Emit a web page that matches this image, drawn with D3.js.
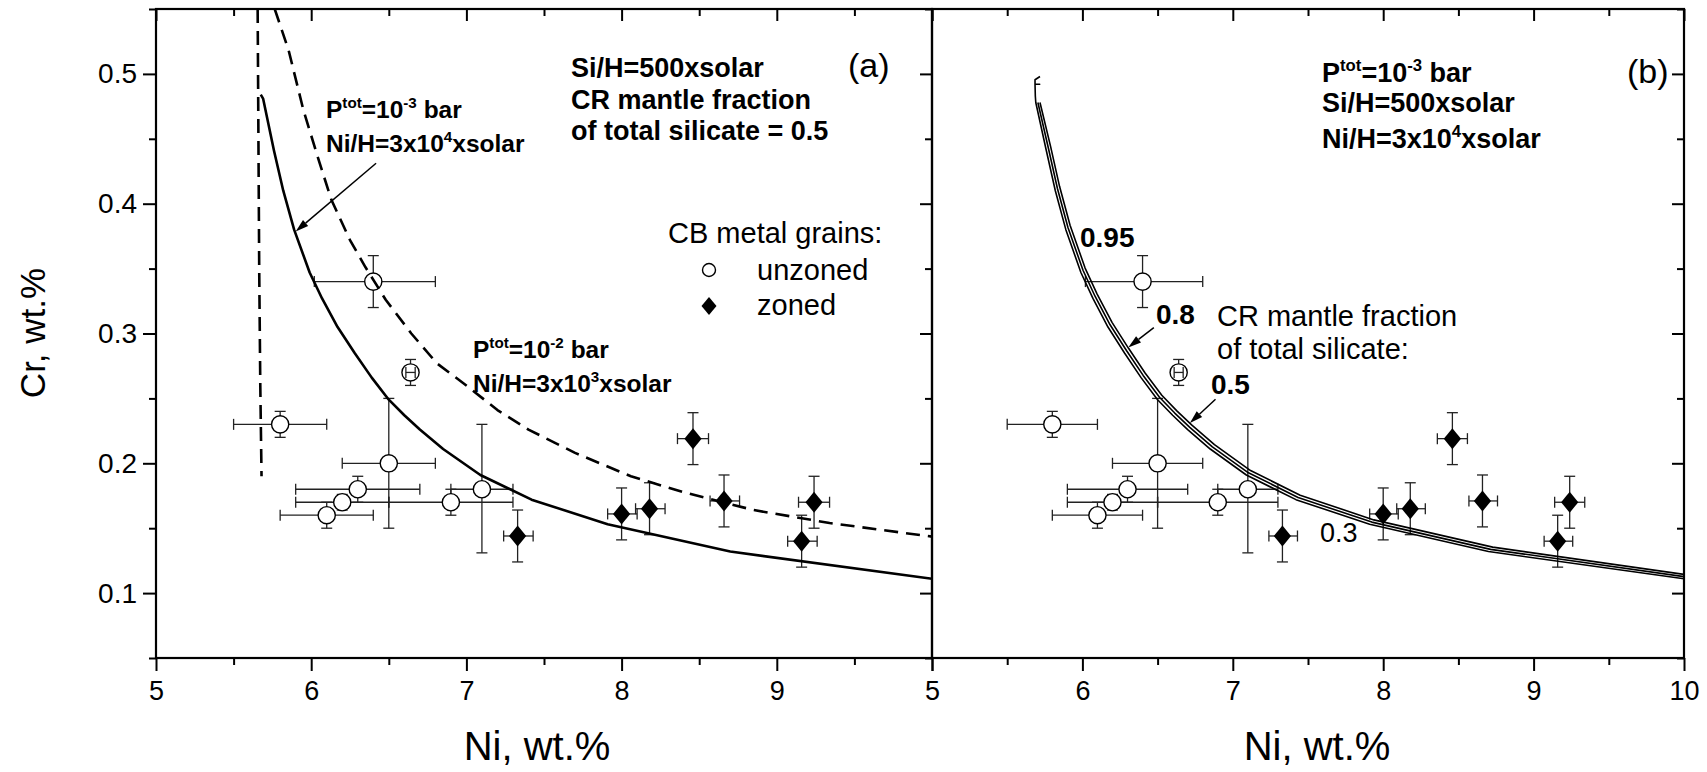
<!DOCTYPE html>
<html>
<head>
<meta charset="utf-8">
<script src="https://cdn.jsdelivr.net/npm/d3@7"></script>
<style>
  html, body { margin: 0; padding: 0; background: #fff; }
  svg { display: block; }
  text { font-family: "Liberation Sans", Arial, Helvetica, sans-serif; fill: #000; white-space: pre; }
</style>
</head>
<body>
<svg id="chart" width="1707" height="772"></svg>
<script>
// ---- axis ticks ----
const xMajor = [5, 6, 7, 8, 9, 10];
const xMinor = [5.5, 6.5, 7.5, 8.5, 9.5];
const yMajor = [0.1, 0.2, 0.3, 0.4, 0.5];
const yMinor = [0.05, 0.15, 0.25, 0.35, 0.45, 0.55];

// ---- CB metal grains, unzoned (Ni, Cr in wt.% with error ranges) ----
const unzNi   = [5.80, 6.40, 6.64, 6.50, 6.30, 6.20, 6.10, 6.90, 7.10];
const unzNiLo = [5.50, 6.02, 6.61, 6.20, 5.90, 5.90, 5.80, 6.50, 6.90];
const unzNiHi = [6.10, 6.80, 6.67, 6.80, 6.70, 6.50, 6.40, 7.30, 7.30];
const unzCr   = [0.230, 0.340, 0.270, 0.200, 0.180, 0.170, 0.160, 0.170, 0.180];
const unzCrLo = [0.220, 0.320, 0.260, 0.150, 0.170, 0.164, 0.150, 0.160, 0.131];
const unzCrHi = [0.240, 0.360, 0.280, 0.250, 0.190, 0.176, 0.170, 0.180, 0.230];

// ---- CB metal grains, zoned ----
const zonNi   = [7.33, 8.00, 8.18, 8.46, 8.66, 9.24, 9.16];
const zonNiLo = [7.24, 7.91, 8.09, 8.36, 8.57, 9.14, 9.07];
const zonNiHi = [7.43, 8.10, 8.28, 8.56, 8.76, 9.34, 9.26];
const zonCr   = [0.144, 0.161, 0.165, 0.219, 0.171, 0.170, 0.140];
const zonCrLo = [0.124, 0.141, 0.145, 0.199, 0.151, 0.150, 0.120];
const zonCrHi = [0.164, 0.181, 0.185, 0.239, 0.191, 0.190, 0.160];

// ---- condensation model curves, panel (a) ----
// Ptot = 1e-3 bar, Ni/H = 3e4 x solar
const lowPNi = [5.675, 5.69, 5.76, 5.82, 5.89, 5.99, 6.07, 6.17, 6.28, 6.39, 6.50, 6.60, 6.70, 6.85, 7.09, 7.42, 7.91, 8.70, 10.0];
const lowPCr = [0.484, 0.481, 0.441, 0.410, 0.380, 0.347, 0.327, 0.305, 0.285, 0.266, 0.249, 0.237, 0.226, 0.211, 0.191, 0.172, 0.153, 0.132, 0.111];
// Ptot = 1e-2 bar, Ni/H = 3e3 x solar
const highPNi = [5.765, 5.855, 5.95, 6.05, 6.13, 6.25, 6.35, 6.48, 6.645, 6.81, 7.01, 7.20, 7.40, 7.70, 8.06, 8.39, 8.85, 9.34, 10.0];
const highPCr = [0.550, 0.518, 0.472, 0.433, 0.403, 0.372, 0.351, 0.326, 0.300, 0.277, 0.259, 0.241, 0.226, 0.208, 0.190, 0.178, 0.164, 0.154, 0.1435];
// low-Ni branch of the 1e-2 bar solution
const highPBranchNi = [5.655, 5.660, 5.665, 5.672, 5.680];
const highPBranchCr = [0.550, 0.450, 0.350, 0.260, 0.190];

// ---- panel (b): CR mantle fraction of total silicate ----
const frac05Ni = [5.718, 5.685, 5.685, 5.716, 5.685, 5.687, 5.690, 5.76, 5.82, 5.89, 5.99, 6.07, 6.17, 6.28, 6.39, 6.50, 6.60, 6.70, 6.85, 7.09, 7.42, 7.91, 8.70, 10.0];
const frac05Cr = [0.498, 0.4955, 0.492, 0.492, 0.492, 0.483, 0.478, 0.441, 0.410, 0.380, 0.347, 0.327, 0.305, 0.285, 0.266, 0.249, 0.237, 0.226, 0.211, 0.191, 0.172, 0.153, 0.132, 0.111];
const frac08Ni = [5.704, 5.774, 5.834, 5.904, 6.004, 6.084, 6.184, 6.294, 6.404, 6.514, 6.614, 6.714, 6.864, 7.104, 7.434, 7.924, 8.714, 10.0];
const frac08Cr = [0.478, 0.4427, 0.4117, 0.3817, 0.3487, 0.3287, 0.3067, 0.2867, 0.2677, 0.2507, 0.2387, 0.2277, 0.2127, 0.1927, 0.1737, 0.1547, 0.1337, 0.1127];
const frac095Ni = [5.718, 5.788, 5.848, 5.918, 6.018, 6.098, 6.198, 6.308, 6.418, 6.528, 6.628, 6.728, 6.878, 7.118, 7.448, 7.938, 8.728, 10.0];
const frac095Cr = [0.478, 0.4444, 0.4134, 0.3834, 0.3504, 0.3304, 0.3084, 0.2884, 0.2694, 0.2524, 0.2404, 0.2294, 0.2144, 0.1944, 0.1754, 0.1564, 0.1354, 0.1144];

// ---------------------------------------------------------------
const svg = d3.select("#chart");
const TOP = 9, BOTTOM = 658;
const y = d3.scaleLinear().domain([0.05, 0.55]).range([BOTTOM, TOP]);
const xA = d3.scaleLinear().domain([5, 10]).range([156, 932]);
const xB = d3.scaleLinear().domain([5, 10]).range([932, 1684]);

const zip = (xs, ys) => xs.map((v, i) => [v, ys[i]]);

function styleAxis(sel, fontSize) {
  sel.select(".domain").remove();
  sel.selectAll("line").attr("stroke", "#000").attr("stroke-width", 2);
  sel.selectAll("text").attr("font-size", fontSize).attr("fill", "#000")
    .attr("font-family", '"Liberation Sans", Arial, sans-serif');
}

function drawFrame(x, id, opts) {
  const g = svg.append("g");
  const [L, R] = x.range();
  // bottom
  g.append("g").attr("transform", `translate(0,${BOTTOM})`)
    .call(d3.axisBottom(x).tickValues(xMajor).tickSize(13).tickPadding(10)
      .tickFormat(v => opts.xLabel(v) ? d3.format("d")(v) : ""))
    .call(s => styleAxis(s, 27));
  g.append("g").attr("transform", `translate(0,${BOTTOM})`)
    .call(d3.axisBottom(x).tickValues(xMinor).tickSize(7).tickFormat(""))
    .call(s => styleAxis(s, 27));
  // top (inward)
  g.append("g").attr("transform", `translate(0,${TOP})`)
    .call(d3.axisTop(x).tickValues(xMajor).tickSize(-12).tickFormat(""))
    .call(s => styleAxis(s, 27));
  g.append("g").attr("transform", `translate(0,${TOP})`)
    .call(d3.axisTop(x).tickValues(xMinor).tickSize(-7).tickFormat(""))
    .call(s => styleAxis(s, 27));
  // left
  if (opts.yLabels) {
    g.append("g").attr("transform", `translate(${L},0)`)
      .call(d3.axisLeft(y).tickValues(yMajor).tickSize(13).tickPadding(6).tickFormat(d3.format(".1f")))
      .call(s => styleAxis(s, 28));
    g.append("g").attr("transform", `translate(${L},0)`)
      .call(d3.axisLeft(y).tickValues(yMinor).tickSize(7).tickFormat(""))
      .call(s => styleAxis(s, 28));
  }
  // right (inward)
  g.append("g").attr("transform", `translate(${R},0)`)
    .call(d3.axisRight(y).tickValues(yMajor).tickSize(-12).tickFormat(""))
    .call(s => styleAxis(s, 27));
  g.append("g").attr("transform", `translate(${R},0)`)
    .call(d3.axisRight(y).tickValues(yMinor).tickSize(-7).tickFormat(""))
    .call(s => styleAxis(s, 27));
  // frame
  g.append("rect").attr("x", L).attr("y", TOP).attr("width", R - L).attr("height", BOTTOM - TOP)
    .attr("fill", "none").attr("stroke", "#000").attr("stroke-width", 2.2);
  // clip region for the model curves
  svg.append("clipPath").attr("id", id).append("rect")
    .attr("x", L).attr("y", TOP).attr("width", R - L).attr("height", BOTTOM - TOP);
}

const CAP = 5.5;
function drawGrains(x) {
  const g = svg.append("g");
  const errs = [];
  unzNi.forEach((v, i) => errs.push({x: unzNi[i], xl: unzNiLo[i], xh: unzNiHi[i], y: unzCr[i], yl: unzCrLo[i], yh: unzCrHi[i], r: 8.6}));
  zonNi.forEach((v, i) => errs.push({x: zonNi[i], xl: zonNiLo[i], xh: zonNiHi[i], y: zonCr[i], yl: zonCrLo[i], yh: zonCrHi[i], r: 8.6}));

  function errBar(sel, d, doX, doY) {
    const cx = x(d.x), cy = y(d.y);
    const seg = (x1, y1, x2, y2) => sel.append("line").attr("x1", x1).attr("y1", y1).attr("x2", x2).attr("y2", y2)
      .attr("stroke", "#222").attr("stroke-width", 1.3);
    if (doX) {
      seg(x(d.xl), cy, x(d.xh), cy);
      seg(x(d.xl), cy - CAP, x(d.xl), cy + CAP);
      seg(x(d.xh), cy - CAP, x(d.xh), cy + CAP);
    }
    if (doY) {
      seg(cx, y(d.yl), cx, y(d.yh));
      seg(cx - CAP, y(d.yl), cx + CAP, y(d.yl));
      seg(cx - CAP, y(d.yh), cx + CAP, y(d.yh));
    }
  }
  const eg = g.append("g");
  errs.forEach(d => errBar(eg, d, true, true));

  // open circles: unzoned
  g.append("g").selectAll("circle").data(zip(unzNi, unzCr)).join("circle")
    .attr("cx", d => x(d[0])).attr("cy", d => y(d[1])).attr("r", 8.6)
    .attr("fill", "#fff").attr("stroke", "#000").attr("stroke-width", 1.4);
  // filled diamonds: zoned
  g.append("g").selectAll("path").data(zip(zonNi, zonCr)).join("path")
    .attr("transform", d => `translate(${x(d[0])},${y(d[1])})`)
    .attr("d", "M0,-10.5L8.6,0L0,10.5L-8.6,0Z").attr("fill", "#000");

  // error bars narrower than the symbol stay visible on top of it
  const og = g.append("g");
  errs.filter(d => (x(d.xh) - x(d.xl)) / 2 < d.r).forEach(d => errBar(og, d, true, false));
}

const line = d3.line().x(d => d[0]).y(d => d[1]);
function drawCurve(x, clipId, xs, ys, width, dash) {
  svg.append("path").attr("clip-path", `url(#${clipId})`)
    .attr("d", line(zip(xs, ys).map(p => [x(p[0]), y(p[1])])))
    .attr("fill", "none").attr("stroke", "#000").attr("stroke-width", width)
    .attr("stroke-linejoin", "round")
    .attr("stroke-dasharray", dash || null);
}

function richText(x0, y0, size, weight, parts) {
  const t = svg.append("text").attr("x", x0).attr("y", y0)
    .attr("font-size", size).attr("font-weight", weight);
  let raised = false;
  parts.forEach(p => {
    const sup = Array.isArray(p);
    const ts = t.append("tspan").text(sup ? p[0] : p);
    if (sup) { ts.attr("font-size", size * 0.62).attr("dy", -size * 0.42); raised = true; }
    else if (raised) { ts.attr("dy", size * 0.42); raised = false; }
  });
  return t;
}

function arrow(x, from, to) {
  const x1 = x(from[0]), y1 = y(from[1]), x2 = x(to[0]), y2 = y(to[1]);
  const ang = Math.atan2(y2 - y1, x2 - x1);
  const L = 13, Wd = 4;
  const bx = x2 - L * Math.cos(ang), by = y2 - L * Math.sin(ang);
  svg.append("line").attr("x1", x1).attr("y1", y1).attr("x2", bx).attr("y2", by)
    .attr("stroke", "#000").attr("stroke-width", 1.5);
  svg.append("path").attr("d",
    `M${x2},${y2}L${bx + Wd * Math.sin(ang)},${by - Wd * Math.cos(ang)}L${bx - Wd * Math.sin(ang)},${by + Wd * Math.cos(ang)}Z`)
    .attr("fill", "#000");
}

// ---- panel (a) ----
drawFrame(xA, "clipA", {xLabel: v => v < 10, yLabels: true});
drawGrains(xA);
drawCurve(xA, "clipA", lowPNi, lowPCr, 2.6);
drawCurve(xA, "clipA", highPNi, highPCr, 2.6, "14,8");
drawCurve(xA, "clipA", highPBranchNi, highPBranchCr, 2.6, "14,8");

richText(571, 77, 27, "bold", ["Si/H=500xsolar"]);
richText(571, 109, 27, "bold", ["CR mantle fraction"]);
richText(571, 140, 27, "bold", ["of total silicate = 0.5"]);
richText(848, 77, 34, "normal", ["(a)"]);
richText(326, 118, 24.5, "bold", ["P", ["tot"], "=10", ["-3"], " bar"]);
richText(326, 152, 24.5, "bold", ["Ni/H=3x10", ["4"], "xsolar"]);
richText(473, 358, 24.5, "bold", ["P", ["tot"], "=10", ["-2"], " bar"]);
richText(473, 392, 24.5, "bold", ["Ni/H=3x10", ["3"], "xsolar"]);
arrow(xA, [6.418, 0.4312], [5.900, 0.3786]);

// legend
richText(668, 243, 29, "normal", ["CB metal grains:"]);
svg.append("circle").attr("cx", 709).attr("cy", 270).attr("r", 6.5)
  .attr("fill", "#fff").attr("stroke", "#000").attr("stroke-width", 1.4);
richText(757, 280, 29, "normal", ["unzoned"]);
svg.append("path").attr("transform", "translate(709,306)")
  .attr("d", "M0,-9L7.5,0L0,9L-7.5,0Z").attr("fill", "#000");
richText(757, 315, 29, "normal", ["zoned"]);

// ---- panel (b) ----
drawFrame(xB, "clipB", {xLabel: v => true, yLabels: false});
drawGrains(xB);
drawCurve(xB, "clipB", frac05Ni, frac05Cr, 1.6);
drawCurve(xB, "clipB", frac08Ni, frac08Cr, 1.6);
drawCurve(xB, "clipB", frac095Ni, frac095Cr, 1.6);

richText(1322, 82, 27, "bold", ["P", ["tot"], "=10", ["-3"], " bar"]);
richText(1322, 112, 27, "bold", ["Si/H=500xsolar"]);
richText(1322, 148, 27, "bold", ["Ni/H=3x10", ["4"], "xsolar"]);
richText(1627, 83, 34, "normal", ["(b)"]);

richText(1080, 247, 28, "bold", ["0.95"]);
richText(1156, 324, 28, "bold", ["0.8"]);
richText(1217, 326, 29, "normal", ["CR mantle fraction"]);
richText(1217, 359, 29, "normal", ["of total silicate:"]);
richText(1211, 394, 28, "bold", ["0.5"]);
richText(1320, 542, 27, "normal", ["0.3"]);
arrow(xB, [6.475, 0.3045], [6.305, 0.2893]);
arrow(xB, [6.885, 0.2494], [6.715, 0.2310]);

// ---- axis titles ----
svg.append("text").attr("transform", "translate(45,333) rotate(-90)")
  .attr("text-anchor", "middle").attr("font-size", 35).text("Cr, wt.%");
svg.append("text").attr("x", 537).attr("y", 760)
  .attr("text-anchor", "middle").attr("font-size", 40).text("Ni, wt.%");
svg.append("text").attr("x", 1317).attr("y", 760)
  .attr("text-anchor", "middle").attr("font-size", 40).text("Ni, wt.%");
</script>
</body>
</html>
